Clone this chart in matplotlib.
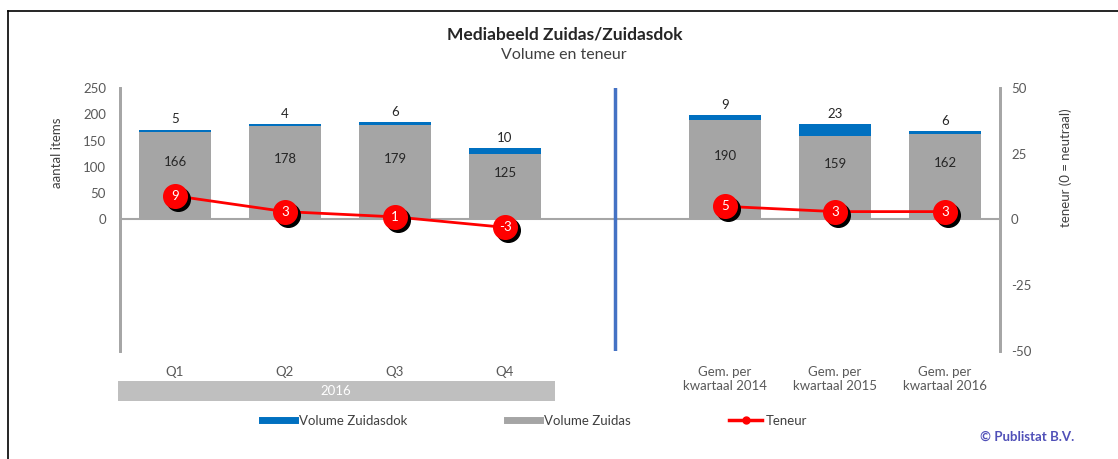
import numpy as np
import matplotlib
matplotlib.use('Agg')
import matplotlib.pyplot as plt
import matplotlib.transforms as mtransforms
from matplotlib.patches import Rectangle
from matplotlib.lines import Line2D

plt.rcParams['font.family'] = ['Lato', 'DejaVu Sans']
plt.rcParams['axes.unicode_minus'] = False

# Data
categories = ['Q1', 'Q2', 'Q3', 'Q4',
              'Gem. per\nkwartaal 2014', 'Gem. per\nkwartaal 2015', 'Gem. per\nkwartaal 2016']
zuidas = np.array([166, 178, 179, 125, 190, 159, 162])
zuidasdok = np.array([5, 4, 6, 10, 9, 23, 6])
teneur = np.array([9, 3, 1, -3, 5, 3, 3])
year_label = '2016'

# slot positions, slot 4 stays empty as separator
x = np.array([0, 1, 2, 3, 5, 6, 7])

GRAY = '#A5A5A5'
BLUE = '#0070C0'
RED = '#FF0000'
TXT = '#404040'

fig = plt.figure(figsize=(11.18, 4.59), dpi=100)
ax = fig.add_axes([120 / 1118, 108 / 459, 880 / 1118, 263 / 459])
ax2 = ax.twinx()

# bars
b1 = ax.bar(x, zuidas, width=0.65, color=GRAY, zorder=2)
b2 = ax.bar(x, zuidasdok, width=0.65, bottom=zuidas, color=BLUE, zorder=2)
ax.bar_label(b1, labels=[str(v) for v in zuidas], label_type='center',
             padding=10, fontsize=9.5, color='#262626')
ax.bar_label(b2, labels=[str(v) for v in zuidasdok], padding=3,
             fontsize=9.5, color='#262626')

ax.axhline(0, color='#A6A6A6', lw=1.5, zorder=1)
ax.axvline(4, color='#4472C4', lw=2.5, zorder=1)

ax.set_xlim(-0.5, 7.5)
ax.set_ylim(-250, 250)
ax.set_yticks([0, 50, 100, 150, 200, 250])
ax.set_xticks(x)
ax.set_xticklabels(categories, fontsize=9.5, color='#595959', linespacing=1.2)
ax.tick_params(axis='x', length=0, pad=11)
ax.tick_params(axis='y', length=0, pad=10, labelsize=9.5, labelcolor='#595959')

ax2.set_ylim(-50, 50)
ax2.set_yticks([-50, -25, 0, 25, 50])
ax2.tick_params(axis='y', length=0, pad=8, labelsize=9.5, labelcolor='#595959')

for a in (ax, ax2):
    a.spines['top'].set_visible(False)
    a.spines['bottom'].set_visible(False)
    a.spines['left'].set_color('#A6A6A6')
    a.spines['right'].set_color('#A6A6A6')
    a.spines['left'].set_linewidth(2)
    a.spines['right'].set_linewidth(2)
    a.patch.set_visible(False)

# teneur line in two parts
shadow = mtransforms.offset_copy(ax2.transData, fig=fig, x=3, y=-3, units='dots')
for sel in (slice(0, 4), slice(4, 7)):
    ax2.plot(x[sel], teneur[sel], color=RED, lw=2, zorder=3)
    ax2.plot(x[sel], teneur[sel], 'o', color='black', ms=17, transform=shadow,
             zorder=4, linestyle='none')
    ax2.plot(x[sel], teneur[sel], 'o', color=RED, ms=17, zorder=5,
             linestyle='none')
for xi, t in zip(x, teneur):
    ax2.text(xi, t, str(t), color='white', ha='center', va='center',
             fontsize=9.5, zorder=6)

# year band below Q1-Q4
btrans = mtransforms.blended_transform_factory(ax.transData, ax.transAxes)
ax.add_patch(Rectangle((-0.52, -0.19), 3.97, 0.076, transform=btrans,
                       color='#BFBFBF', clip_on=False, lw=0))
ax.text(1.465, -0.152, year_label, transform=btrans, ha='center', va='center',
        color='white', fontsize=9.5)

# titles and axis labels
fig.text(0.505, 0.924, 'Mediabeeld Zuidas/Zuidasdok', ha='center', va='center',
         fontsize=12.5, fontweight='bold', color='#262626')
fig.text(0.504, 0.880, 'Volume en teneur', ha='center', va='center',
         fontsize=11.5, color='#404040')
fig.text(0.051, 0.667, 'aantal items', rotation=90, ha='center', va='center',
         fontsize=9.5, color=TXT)
fig.text(0.953, 0.635, 'teneur (0 = neutraal)', rotation=90, ha='center',
         va='center', fontsize=9.5, color=TXT)

# legend
handles = [Line2D([], [], color=BLUE, lw=5),
           Line2D([], [], color=GRAY, lw=5),
           Line2D([], [], color=RED, lw=2.5, marker='o', ms=5)]
fig.legend(handles, ['Volume Zuidasdok', 'Volume Zuidas', 'Teneur'], ncol=3,
           loc='center', bbox_to_anchor=(535 / 1118, 1 - 421 / 459),
           frameon=False, fontsize=9.5, handlelength=2.5, handletextpad=0.3,
           columnspacing=7.5, labelcolor=TXT)

fig.text(1027 / 1118, 1 - 437 / 459, '\u00a9 Publistat B.V.', ha='center',
         va='center', fontsize=9.5, color='#5050B8', fontweight='bold')

# outer frame (left and top edge visible)
fig.add_artist(Line2D([8 / 1118, 8 / 1118], [0, 1 - 11 / 459], color='black',
                      lw=1.2, transform=fig.transFigure))
fig.add_artist(Line2D([8 / 1118, 1], [1 - 11 / 459, 1 - 11 / 459],
                      color='black', lw=1.2, transform=fig.transFigure))

fig.savefig('out.png', dpi=100)
